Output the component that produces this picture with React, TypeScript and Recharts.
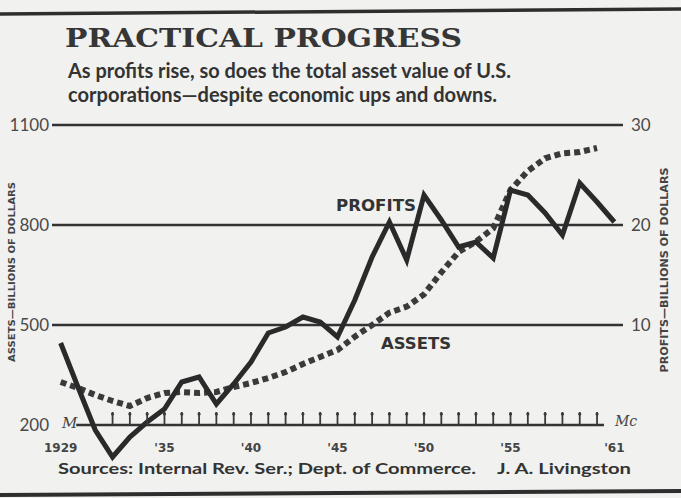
import React from 'react';
import { LineChart, Line, XAxis, YAxis, ReferenceLine } from 'recharts';

// ---- Data ----
const years = [
  1929, 1930, 1931, 1932, 1933, 1934, 1935, 1936, 1937, 1938, 1939,
  1940, 1941, 1942, 1943, 1944, 1945, 1946, 1947, 1948, 1949, 1950,
  1951, 1952, 1953, 1954, 1955, 1956, 1957, 1958, 1959, 1960, 1961,
];

// Corporate profits, billions of dollars (right axis)
const profits = [
  8.2, 3.8, -0.5, -3.2, -1.2, 0.3, 1.6, 4.3, 4.8, 2.1, 4.1,
  6.3, 9.2, 9.8, 10.8, 10.3, 8.8, 12.5, 16.8, 20.3, 16.5, 23.0,
  20.5, 17.8, 18.3, 16.7, 23.5, 23.0, 21.2, 19.0, 24.2, 22.3, 20.3,
];

// Total corporate assets, billions of dollars (left axis)
const assets: (number | null)[] = [
  329, 311, 290, 272, 257, 281, 296, 299, 296, 299, 314,
  326, 341, 359, 383, 404, 425, 465, 500, 537, 555, 592,
  658, 719, 750, 790, 905, 962, 1000, 1015, 1019, 1031, null,
];

const assetTicks = [200, 500, 800, 1100];
const profitTicks = [10, 20, 30];
const yearLabels: Record<number, string> = {
  1929: '1929', 1935: "'35", 1940: "'40", 1945: "'45", 1950: "'50", 1955: "'55", 1961: "'61",
};
const firstTickYear = 1932;
const lastTickYear = 1960;

const data = years.map((year, i) => ({ year, profits: profits[i], assets: assets[i] }));

const INK = '#333333';
const BG = '#f1f1ef';

const YearTick = (props: any) => {
  const { x, y, payload } = props;
  const yr = payload.value as number;
  const base = y - 40;
  const hasMark = yr >= firstTickYear && yr <= lastTickYear;
  return (
    <g>
      {hasMark && (
        <line x1={x} x2={x} y1={base - 13} y2={base} stroke="#3a3a3a" strokeWidth={1.8} />
      )}
      {hasMark && <circle cx={x} cy={base - 11} r={1.6} fill="#3a3a3a" />}
      {yearLabels[yr] && (
        <text
          x={x}
          y={base + 27}
          textAnchor="middle"
          fontFamily="DejaVu Sans"
          fontWeight="bold"
          fontSize={12}
          fill="#444"
        >
          {yearLabels[yr]}
        </text>
      )}
    </g>
  );
};

export default function App() {
  return (
    <div style={{ position: 'absolute', left: 0, top: 0, width: 681, height: 498, background: BG, overflow: 'hidden' }}>
      <div style={{ position: 'absolute', left: 0, top: 0 }}>
        <LineChart width={681} height={498} data={data} margin={{ top: 125, right: 0, left: 0, bottom: 0 }}>
          <XAxis
            dataKey="year"
            type="number"
            domain={[1928.5, 1961.5]}
            ticks={years}
            interval={0}
            height={33}
            axisLine={false}
            tickLine={false}
            tickSize={0}
            tickMargin={0}
            tick={<YearTick />}
          />
          <YAxis
            yAxisId="left"
            domain={[80, 1100]}
            ticks={assetTicks}
            width={52}
            axisLine={false}
            tickLine={false}
            tickSize={0}
            tickMargin={3}
            tick={{ fontSize: 17, fill: '#4a4a4a', fontFamily: 'Lato', fontWeight: 400 }}
          />
          <YAxis
            yAxisId="right"
            orientation="right"
            domain={[-4, 30]}
            ticks={profitTicks}
            width={58}
            axisLine={false}
            tickLine={false}
            tickSize={0}
            tickMargin={8}
            tick={{ fontSize: 17, fill: '#4a4a4a', fontFamily: 'Lato', fontWeight: 400 }}
          />
          <ReferenceLine yAxisId="left" y={1100} stroke={INK} strokeWidth={2.5} />
          <ReferenceLine yAxisId="left" y={800} stroke={INK} strokeWidth={2.5} />
          <ReferenceLine yAxisId="left" y={500} stroke={INK} strokeWidth={2.5} />
          <ReferenceLine
            yAxisId="left"
            segment={[{ x: 1929.9, y: 200 }, { x: 1960.4, y: 200 }]}
            stroke={INK}
            strokeWidth={2.5}
          />
          <Line
            yAxisId="left"
            type="linear"
            dataKey="assets"
            stroke="#3a3a3a"
            strokeWidth={6}
            strokeDasharray="6 4"
            dot={false}
            connectNulls={false}
            isAnimationActive={false}
          />
          <Line
            yAxisId="right"
            type="linear"
            dataKey="profits"
            stroke="#2a2a2a"
            strokeWidth={5}
            strokeLinejoin="miter"
            dot={false}
            isAnimationActive={false}
          />
        </LineChart>
      </div>
      <svg width={681} height={498} style={{ position: 'absolute', left: 0, top: 0, pointerEvents: 'none' }}>
        <line x1={0} y1={14} x2={681} y2={9} stroke="#2e2e2e" strokeWidth={3.5} />
        <line x1={0} y1={495} x2={681} y2={491} stroke="#2e2e2e" strokeWidth={4} />
        <text x={65} y={47} fontFamily="DejaVu Serif" fontWeight="bold" fontSize={26} fill="#363636" textLength={397} lengthAdjust="spacingAndGlyphs">
          PRACTICAL PROGRESS
        </text>
        <text x={68} y={78} fontFamily="Lato" fontWeight={700} fontSize={20} fill="#333" textLength={443} lengthAdjust="spacingAndGlyphs">
          As profits rise, so does the total asset value of U.S.
        </text>
        <text x={68} y={102} fontFamily="Lato" fontWeight={700} fontSize={20} fill="#333" textLength={429} lengthAdjust="spacingAndGlyphs">
          corporations—despite economic ups and downs.
        </text>
        <text x={336} y={211} fontFamily="DejaVu Sans" fontWeight="bold" fontSize={15} fill="#333" textLength={80} lengthAdjust="spacingAndGlyphs">
          PROFITS
        </text>
        <text x={381} y={349} fontFamily="DejaVu Sans" fontWeight="bold" fontSize={15} fill="#333" textLength={70} lengthAdjust="spacingAndGlyphs">
          ASSETS
        </text>
        <text transform="translate(15,272) rotate(-90)" textAnchor="middle" fontFamily="DejaVu Sans Condensed" fontWeight="bold" fontSize={9} fill="#444" textLength={180} lengthAdjust="spacingAndGlyphs">
          ASSETS—BILLIONS OF DOLLARS
        </text>
        <text transform="translate(668,270) rotate(-90)" textAnchor="middle" fontFamily="DejaVu Sans Condensed" fontWeight="bold" fontSize={10} fill="#444" textLength={205} lengthAdjust="spacingAndGlyphs">
          PROFITS—BILLIONS OF DOLLARS
        </text>
        <text x={58} y={474} fontFamily="Lato" fontWeight={700} fontSize={15} fill="#333" textLength={418} lengthAdjust="spacingAndGlyphs">
          Sources: Internal Rev. Ser.; Dept. of Commerce.
        </text>
        <text x={497} y={474} fontFamily="Lato" fontWeight={700} fontSize={15} fill="#333" textLength={134} lengthAdjust="spacingAndGlyphs">
          J. A. Livingston
        </text>
        <text x={62} y={428} fontFamily="DejaVu Serif" fontStyle="italic" fontSize={15} fill="#444">
          M
        </text>
        <text x={615} y={426} fontFamily="DejaVu Serif" fontStyle="italic" fontSize={14} fill="#444">
          Mc
        </text>
      </svg>
    </div>
  );
}
